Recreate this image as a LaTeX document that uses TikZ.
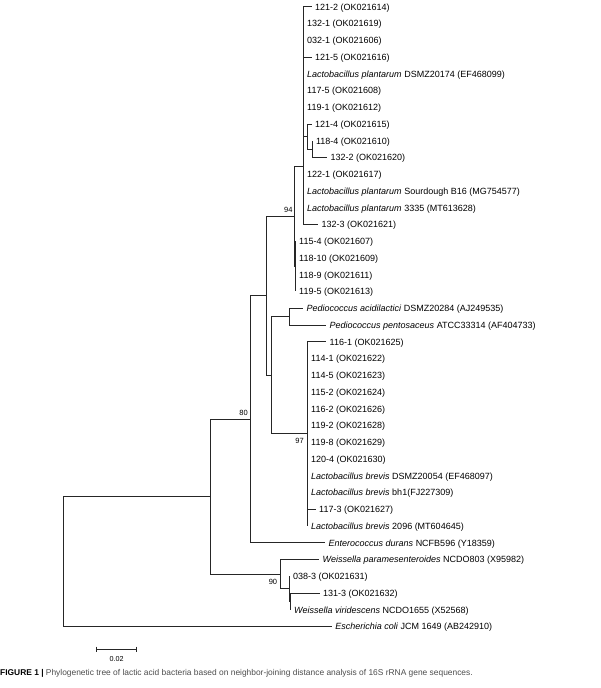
\documentclass[tikz,border=0pt]{standalone}
\usepackage{fontspec}
\setmainfont{Liberation Sans}
\begin{document}
\begin{tikzpicture}[x=1pt,y=-1pt,
  br/.style={draw=black!85, line width=0.8pt},
  lab/.style={anchor=base west, inner sep=0pt, font=\fontsize{9}{10}\selectfont, yshift=-3.3pt, xshift=3.5pt},
  bs/.style={anchor=base east, inner sep=0pt, font=\fontsize{7.5}{8}\selectfont}]
\useasboundingbox (0,0) rectangle (600,688);
% internal nodes
\coordinate (R) at (63,561.6);
\coordinate (N80) at (210.7,496.7);
\coordinate (C) at (250.7,419.3);
\coordinate (D) at (266.7,295.85);
\coordinate (N94) at (294.3,216.3);
\coordinate (P) at (303.5,166.3);
\coordinate (S1) at (307,136.5);
\coordinate (S2) at (312.3,149.1);
\coordinate (Q) at (295.5,266.3);
\coordinate (E) at (271.7,375);
\coordinate (Pd) at (289.3,316.6);
\coordinate (Br) at (307.5,433.8);
\coordinate (W) at (280.7,574.1);
\coordinate (A) at (289.3,588.75);
\coordinate (B) at (290.5,601.3);
% tips
\coordinate (t0) at (311.5,6.7);
\coordinate (t1) at (303.5,23.45);
\coordinate (t2) at (303.5,40.2);
\coordinate (t3) at (311.5,56.95);
\coordinate (t4) at (303.5,73.7);
\coordinate (t5) at (303.5,90.45);
\coordinate (t6) at (303.5,107.2);
\coordinate (t7) at (311.5,123.95);
\coordinate (t8) at (312.3,140.7);
\coordinate (t9) at (327,157.45);
\coordinate (t10) at (303.5,174.2);
\coordinate (t11) at (303.5,190.95);
\coordinate (t12) at (303.5,207.7);
\coordinate (t13) at (318,224.45);
\coordinate (t14) at (295.5,241.2);
\coordinate (t15) at (295.5,257.95);
\coordinate (t16) at (295.5,274.7);
\coordinate (t17) at (295.5,291.45);
\coordinate (t18) at (303,308.2);
\coordinate (t19) at (326,324.95);
\coordinate (t20) at (326,341.7);
\coordinate (t21) at (307.5,358.45);
\coordinate (t22) at (307.5,375.2);
\coordinate (t23) at (307.5,391.95);
\coordinate (t24) at (307.5,408.7);
\coordinate (t25) at (307.5,425.45);
\coordinate (t26) at (307.5,442.2);
\coordinate (t27) at (307.5,458.95);
\coordinate (t28) at (307.5,475.7);
\coordinate (t29) at (307.5,492.45);
\coordinate (t30) at (315.5,509.2);
\coordinate (t31) at (307.5,525.95);
\coordinate (t32) at (325,542.7);
\coordinate (t33) at (319,559.45);
\coordinate (t34) at (289.3,576.2);
\coordinate (t35) at (319.5,592.95);
\coordinate (t36) at (290.5,609.7);
\coordinate (t37) at (331.7,626.45);
% branches
\draw[br] (R) |- (N80);
\draw[br] (R) |- (t37);
\draw[br] (N80) |- (C);
\draw[br] (N80) |- (W);
\draw[br] (C) |- (D);
\draw[br] (C) |- (t32);
\draw[br] (D) |- (N94);
\draw[br] (D) |- (E);
\draw[br] (N94) |- (P);
\draw[br] (N94) |- (Q);
\foreach \k in {0,...,6,10,11,12,13} {\draw[br] (P) |- (t\k);}
\draw[br] (P) |- (S1);
\draw[br] (S1) |- (t7);
\draw[br] (S1) |- (S2);
\draw[br] (S2) |- (t8);
\draw[br] (S2) |- (t9);
\foreach \k in {14,...,17} {\draw[br] (Q) |- (t\k);}
\draw[br] (E) |- (Pd);
\draw[br] (E) |- (Br);
\draw[br] (Pd) |- (t18);
\draw[br] (Pd) |- (t19);
\foreach \k in {20,...,31} {\draw[br] (Br) |- (t\k);}
\draw[br] (W) |- (t33);
\draw[br] (W) |- (A);
\draw[br] (A) |- (t34);
\draw[br] (A) |- (B);
\draw[br] (B) |- (t35);
\draw[br] (B) |- (t36);
% labels
\node[lab] (l0) at (t0) {121-2 (OK021614)};
\node[lab] (l1) at (t1) {132-1 (OK021619)};
\node[lab] (l2) at (t2) {032-1 (OK021606)};
\node[lab] (l3) at (t3) {121-5 (OK021616)};
\node[lab] (l4) at (t4) {\textit{Lactobacillus plantarum} DSMZ20174 (EF468099)};
\node[lab] (l5) at (t5) {117-5 (OK021608)};
\node[lab] (l6) at (t6) {119-1 (OK021612)};
\node[lab] (l7) at (t7) {121-4 (OK021615)};
\node[lab] (l8) at (t8) {118-4 (OK021610)};
\node[lab] (l9) at (t9) {132-2 (OK021620)};
\node[lab] (l10) at (t10) {122-1 (OK021617)};
\node[lab] (l11) at (t11) {\textit{Lactobacillus plantarum} Sourdough B16 (MG754577)};
\node[lab] (l12) at (t12) {\textit{Lactobacillus plantarum} 3335 (MT613628)};
\node[lab] (l13) at (t13) {132-3 (OK021621)};
\node[lab] (l14) at (t14) {115-4 (OK021607)};
\node[lab] (l15) at (t15) {118-10 (OK021609)};
\node[lab] (l16) at (t16) {118-9 (OK021611)};
\node[lab] (l17) at (t17) {119-5 (OK021613)};
\node[lab] (l18) at (t18) {\textit{Pediococcus acidilactici} DSMZ20284 (AJ249535)};
\node[lab] (l19) at (t19) {\textit{Pediococcus pentosaceus} ATCC33314 (AF404733)};
\node[lab] (l20) at (t20) {116-1 (OK021625)};
\node[lab] (l21) at (t21) {114-1 (OK021622)};
\node[lab] (l22) at (t22) {114-5 (OK021623)};
\node[lab] (l23) at (t23) {115-2 (OK021624)};
\node[lab] (l24) at (t24) {116-2 (OK021626)};
\node[lab] (l25) at (t25) {119-2 (OK021628)};
\node[lab] (l26) at (t26) {119-8 (OK021629)};
\node[lab] (l27) at (t27) {120-4 (OK021630)};
\node[lab] (l28) at (t28) {\textit{Lactobacillus brevis} DSMZ20054 (EF468097)};
\node[lab] (l29) at (t29) {\textit{Lactobacillus brevis} bh1(FJ227309)};
\node[lab] (l30) at (t30) {117-3 (OK021627)};
\node[lab] (l31) at (t31) {\textit{Lactobacillus brevis} 2096 (MT604645)};
\node[lab] (l32) at (t32) {\textit{Enterococcus durans} NCFB596 (Y18359)};
\node[lab] (l33) at (t33) {\textit{Weissella paramesenteroides} NCDO803 (X95982)};
\node[lab] (l34) at (t34) {038-3 (OK021631)};
\node[lab] (l35) at (t35) {131-3 (OK021632)};
\node[lab] (l36) at (t36) {\textit{Weissella viridescens} NCDO1655 (X52568)};
\node[lab] (l37) at (t37) {\textit{Escherichia coli} JCM 1649 (AB242910)};
% bootstrap values
\node[bs] (b94) at ([xshift=-1.6pt,yshift=4.3pt]N94) {94};
\node[bs] (b80) at ([xshift=-2.7pt,yshift=3.9pt]C) {80};
\node[bs] (b97) at ([xshift=-3.5pt,yshift=-9.5pt]Br) {97};
\node[bs] (b90) at ([xshift=-3.4pt,yshift=-10.3pt]W) {90};
% scale bar
\coordinate (s1) at (96.7,649);
\coordinate (s2) at (136.7,649);
\draw[br] (s1) -- (s2);
\draw[br] ([yshift=2.5pt]s1) -- ([yshift=-2.5pt]s1);
\draw[br] ([yshift=2.5pt]s2) -- ([yshift=-2.5pt]s2);
\node[anchor=base, inner sep=0pt, font=\fontsize{7.2}{8}\selectfont] (sl) at (116.7,661) {0.02};
% caption
\node[anchor=base west, inner sep=0pt, font=\fontsize{8.4}{9}\selectfont] (cap) at (0,675)
  {\textbf{FIGURE 1 |} \textcolor{black!70}{Phylogenetic tree of lactic acid bacteria based on neighbor-joining distance analysis of 16S rRNA gene sequences.}};
\end{tikzpicture}
\end{document}
